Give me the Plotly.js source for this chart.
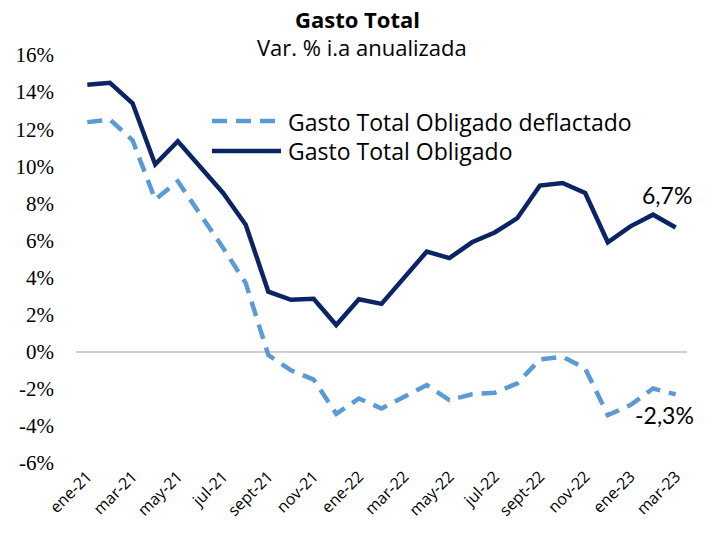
<!DOCTYPE html>
<html>
<head>
<meta charset="utf-8">
<script src="https://cdn.plot.ly/plotly-3.0.1.min.js"></script>
<style>html,body{margin:0;padding:0;background:#fff;}#chart{width:713px;height:538px;}</style>
</head>
<body>
<div id="chart"></div>
<script>
const months = ["ene-21","feb-21","mar-21","abr-21","may-21","jun-21","jul-21","ago-21","sept-21","oct-21","nov-21","dic-21",
                "ene-22","feb-22","mar-22","abr-22","may-22","jun-22","jul-22","ago-22","sept-22","oct-22","nov-22","dic-22",
                "ene-23","feb-23","mar-23"];
const gastoObligado = [14.4,14.5,13.4,10.1,11.35,9.95,8.56,6.85,3.24,2.8,2.85,1.44,
                       2.83,2.58,4.0,5.4,5.05,5.9,6.43,7.2,8.96,9.1,8.56,5.9,
                       6.76,7.39,6.7];
const gastoDeflactado = [12.38,12.52,11.4,8.2,9.19,7.44,5.6,3.7,-0.18,-1.0,-1.5,-3.35,
                         -2.52,-3.06,-2.43,-1.8,-2.61,-2.29,-2.21,-1.71,-0.41,-0.27,-0.9,-3.42,
                         -2.88,-1.98,-2.3];
const tickLabels = months.filter((m,i)=>i%2===0);
const yTicks = [-6,-4,-2,0,2,4,6,8,10,12,14,16];
const seriesNames = ["Gasto Total Obligado deflactado","Gasto Total Obligado"];
const endLabels = ["-2,3%","6,7%"];
const titleText = "Gasto Total";
const subtitleText = "Var. % i.a anualizada";

const navy = "#0B2463";
const lightBlue = "#5B9BD5";

const traces = [
  {x: months, y: gastoDeflactado, type:"scatter", mode:"lines", name: seriesNames[0],
   line:{color: lightBlue, width:4.5, dash:"15px,9px"}, hoverinfo:"x+y"},
  {x: months, y: gastoObligado, type:"scatter", mode:"lines", name: seriesNames[1],
   line:{color: navy, width:4.5}, hoverinfo:"x+y"}
];

const sansFont = "'Open Sans', Lato, sans-serif";
const px = v => (v-76)/611;
const py = v => (463-v)/408;
const layout = {
  width:713, height:538,
  margin:{l:76, r:26, t:55, b:75},
  paper_bgcolor:"#fff", plot_bgcolor:"#fff",
  showlegend:false,
  xaxis:{type:"category", range:[-0.5, months.length-0.5], showgrid:false, zeroline:false, showline:false,
         tickmode:"array", tickvals: tickLabels, ticktext: tickLabels, tickangle:-45, ticks:"",
         tickfont:{family:sansFont, size:16, color:"#000"}},
  yaxis:{range:[-6,16], tickmode:"array", tickvals:yTicks, ticktext:yTicks.map(v=>v+"%"),
         showgrid:false, zeroline:true, zerolinecolor:"#d0d0d0", zerolinewidth:1.5, showline:false, ticks:"",
         ticklabelstandoff:21,
         tickfont:{family:"'Liberation Serif', serif", size:21, color:"#000"}},
  shapes:[
    {type:"line", xref:"paper", yref:"paper", x0:px(212), x1:px(281), y0:py(121), y1:py(121),
     line:{color:lightBlue, width:4.5, dash:"15px,9px"}},
    {type:"line", xref:"paper", yref:"paper", x0:px(212), x1:px(281), y0:py(151), y1:py(151),
     line:{color:navy, width:4.5}}
  ],
  annotations:[
    {text:"<b>"+titleText+"</b>", xref:"paper", yref:"paper", x:px(357), y:py(19), showarrow:false,
     xanchor:"center", yanchor:"middle", font:{family:sansFont, size:22, color:"#000"}},
    {text:subtitleText, xref:"paper", yref:"paper", x:px(362), y:py(47), showarrow:false,
     xanchor:"center", yanchor:"middle", font:{family:sansFont, size:22, color:"#000"}},
    {text:seriesNames[0], xref:"paper", yref:"paper", x:px(286), y:py(122), showarrow:false,
     xanchor:"left", yanchor:"middle", font:{family:sansFont, size:23, color:"#000"}},
    {text:seriesNames[1], xref:"paper", yref:"paper", x:px(286), y:py(151), showarrow:false,
     xanchor:"left", yanchor:"middle", font:{family:sansFont, size:23, color:"#000"}},
    {text:endLabels[1], x:months[months.length-1], y:gastoObligado[gastoObligado.length-1], showarrow:false,
     xanchor:"center", yanchor:"bottom", xshift:-9, yshift:16, font:{family:"Lato, sans-serif", size:23, color:"#000"}},
    {text:endLabels[0], x:months[months.length-1], y:gastoDeflactado[gastoDeflactado.length-1], showarrow:false,
     xanchor:"center", yanchor:"top", xshift:-11, yshift:-5, font:{family:"Lato, sans-serif", size:23, color:"#000"}}
  ]
};
Plotly.newPlot("chart", traces, layout, {displayModeBar:false, responsive:false});
</script>
</body>
</html>
